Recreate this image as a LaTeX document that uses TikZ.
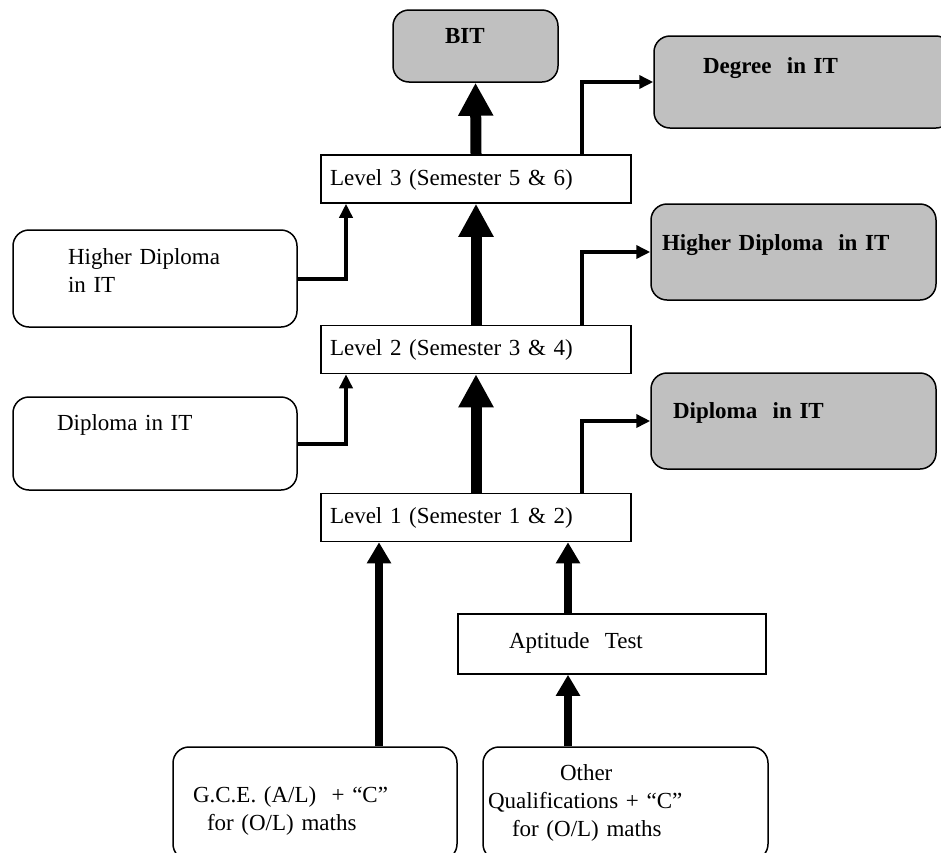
\documentclass[tikz,border=0pt]{standalone}
\usepackage{fontspec}
\setmainfont{Liberation Serif}
\usetikzlibrary{arrows.meta}
\definecolor{boxgray}{HTML}{C0C0C0}

\tikzset{
    box/.style={draw, line width=1.5pt, inner ysep=0pt, align=left,
        font=\fontsize{23}{28}\selectfont},
    roundbox/.style={box, rounded corners=16pt},
    graybox/.style={roundbox, fill=boxgray, font=\fontsize{23}{28}\selectfont\bfseries},
    levelbox/.style={box, text width=292pt, inner xsep=9pt, text height=30pt, text depth=18pt},
    bigarrow/.style={line width=11pt, -{Triangle[length=33pt,width=33pt]}},
    midarrow/.style={line width=8.5pt, -{Triangle[length=21pt,width=23pt]}},
    thinarrow/.style={line width=4pt, -{Triangle[length=14pt,width=13pt]}},
}

\begin{document}
\begin{tikzpicture}[x=1pt, y=-1pt]
    \useasboundingbox (0,0) rectangle (941,852);
    \clip (0,0) rectangle (941,852);

    % The three levels of the programme
    \foreach \lv/\y/\a/\b in {1/517.5/1/2, 2/349.5/3/4, 3/179/5/6} {
        \node[levelbox] (lev\lv) at (476,\y) {Level \lv\ (Semester \a\ \& \b)};
    }

    % Awards (grey boxes)
    \node[graybox, text width=61pt, inner xsep=52pt, text height=33pt, text depth=39pt]
        (bit) at (475.5,46) {BIT};
    \node[graybox, text width=200pt, inner xsep=49pt, text height=37pt, text depth=55pt]
        (deg) at (803,82) {Degree\ \ in IT};
    \node[graybox, text width=263pt, inner xsep=11pt, text height=46pt, text depth=50pt]
        (hdr) at (793.5,252) {Higher Diploma\ \ in IT};
    \node[graybox, text width=241pt, inner xsep=22pt, text height=45pt, text depth=51pt]
        (dr) at (793.5,421) {Diploma\ \ in IT};

    % Entry with earlier awards
    \node[roundbox, text width=174pt, inner xsep=55pt, text height=34pt, text depth=63pt]
        (hdl) at (155,278.5) {Higher Diploma\\in IT};
    \node[roundbox, text width=196pt, inner xsep=44pt, text height=33pt, text depth=60pt]
        (dl) at (155,443.5) {Diploma in IT};

    % Entry requirements
    \node[box, text width=206pt, inner xsep=51pt, text height=34pt, text depth=26pt]
        (apt) at (612,644) {Aptitude\ \ Test};
    \node[roundbox, text width=244pt, inner xsep=20pt, text height=55pt, text depth=58pt]
        (gce) at (315,803.5) {G.C.E. (A/L)\ \ + ``C''\\\hspace*{14pt}for (O/L) maths};
    \node[roundbox, text width=275pt, inner xsep=5pt, text height=33pt, text depth=80pt]
        (oth) at (625.5,803.5) {\hspace*{72pt}Other\\Qualifications + ``C''\\\hspace*{24pt}for (O/L) maths};

    % Columns of the connectors
    \coordinate (xa) at (379,0);
    \coordinate (xb) at (568,0);
    \coordinate (xl) at (346,0);
    \coordinate (xr) at (582,0);

    % Main path upwards
    \draw[bigarrow] (lev1.north) -- (lev2.south);
    \draw[bigarrow] (lev2.north) -- (lev3.south);
    \draw[bigarrow] (lev3.north) -- (bit.south);

    % Into level 1
    \draw[midarrow] (xa |- gce.north) -- (xa |- lev1.south);
    \draw[midarrow] (xb |- oth.north) -- (xb |- apt.south);
    \draw[midarrow] (xb |- apt.north) -- (xb |- lev1.south);

    % Exit awards and lateral entry
    \foreach \lv/\out in {1/dr, 2/hdr, 3/deg} {
        \draw[thinarrow] (xr |- lev\lv.north) |- (\out.west);
    }
    \foreach \src/\lv in {hdl/3, dl/2} {
        \draw[thinarrow] (\src.east) -| (xl |- lev\lv.south);
    }
\end{tikzpicture}
\end{document}
